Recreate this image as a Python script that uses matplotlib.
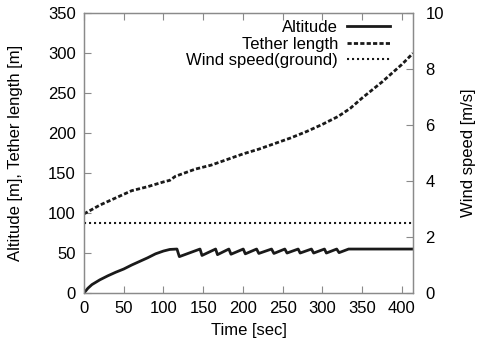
import numpy as np
import matplotlib.pyplot as plt

plt.rcParams['font.family'] = ['Liberation Sans', 'DejaVu Sans']

# altitude [m]: climb phase, then reel-in/reel-out sawtooth, then hold
alt_t = [0, 5, 10, 20, 30, 40, 50, 60, 70, 80, 90, 100, 108, 117,
         120, 146, 148.5, 165.6, 168, 182.3, 185, 200.4, 203, 217.2, 220,
         236, 239, 252.7, 255.5, 269.5, 272, 286.2, 289, 302.6, 305, 318, 321,
         333, 414]
alt_v = [0, 6, 10.5, 16.5, 21.5, 26, 30, 35, 39.5, 44, 49, 52.5, 54.5, 55,
         45.5, 55, 47, 55, 48, 55, 48.5, 55, 49, 55, 49.5,
         55, 49.5, 55, 50, 55, 50, 55, 50, 55, 50, 55, 50.5,
         55, 55]

# tether length [m]
teth_t = [0, 20, 40, 60, 80, 100, 108, 115, 140, 160, 180, 200, 220, 240,
          260, 280, 300, 320, 335, 350, 375, 400, 414]
teth_v = [99, 110, 119, 128, 133, 139, 141, 146, 155, 160, 167, 174, 180, 187,
          194, 202, 211, 221, 231, 244, 264, 286, 300]

# ground wind speed [m/s]
wind_t = [0, 414]
wind_v = [2.51, 2.51]

frame_col = '#8a8a8a'
fs = 12

fig = plt.figure(figsize=(4.81, 3.39), dpi=100)
ax = fig.add_axes([0.1746, 0.1357, 0.6840, 0.8251])
ax2 = ax.twinx()

ax.plot(alt_t, alt_v, color='#1a1a1a', lw=2.0, label='Altitude')
ax.plot(teth_t, teth_v, color='#1a1a1a', lw=2.0, ls=(0, (1.5, 0.8)), label='Tether length')
ax2.plot(wind_t, wind_v, color='#1a1a1a', lw=1.5, ls=(0, (1, 1.4)), label='Wind speed(ground)')

ax.set_xlim(0, 414)
ax.set_ylim(0, 350)
ax2.set_ylim(0, 10)
ax.set_xticks(np.arange(0, 401, 50))
ax.set_yticks(np.arange(0, 351, 50))
ax2.set_yticks(np.arange(0, 11, 2))

ax.set_xlabel('Time [sec]', fontsize=fs, labelpad=5)
ax.set_ylabel('Altitude [m], Tether length [m]', fontsize=fs, labelpad=18)
ax2.set_ylabel('Wind speed [m/s]', fontsize=fs, labelpad=12)

for a in (ax, ax2):
    for sp in a.spines.values():
        sp.set_color(frame_col)
        sp.set_linewidth(0.9)
ax.tick_params(axis='both', direction='in', length=5, width=0.8, color=frame_col,
               labelsize=fs, top=True, pad=6)
ax2.tick_params(axis='y', direction='in', length=5, width=0.8, color=frame_col,
                labelsize=fs, pad=9)

h1, l1 = ax.get_legend_handles_labels()
h2, l2 = ax2.get_legend_handles_labels()
leg = ax2.legend(h1 + h2, l1 + l2, loc='upper right', bbox_to_anchor=(0.95, 1.0),
                 frameon=False, markerfirst=False, fontsize=fs, handlelength=2.6,
                 handletextpad=0.5, labelspacing=0.1, borderaxespad=0.0, borderpad=0.4)
for t in leg.get_texts():
    t.set_ha('right')

plt.savefig('out.png', dpi=100)
